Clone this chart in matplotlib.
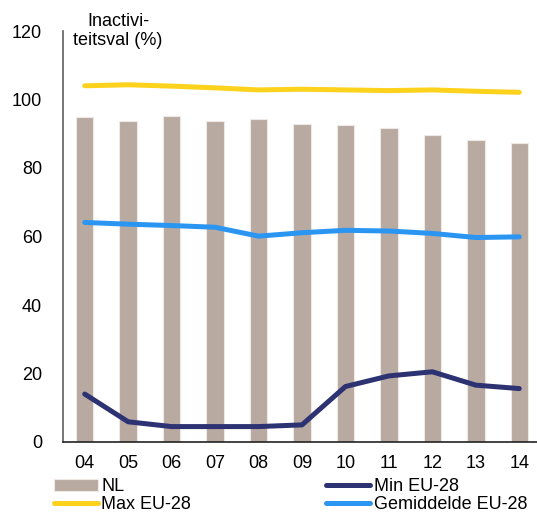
import numpy as np
import matplotlib
matplotlib.use("Agg")
import matplotlib.pyplot as plt

years = ["04", "05", "06", "07", "08", "09", "10", "11", "12", "13", "14"]
nl = [94.8, 93.7, 95.2, 93.8, 94.2, 92.8, 92.5, 91.7, 89.7, 88.1, 87.3]
max_eu = [104.0, 104.3, 103.9, 103.4, 102.8, 103.0, 102.8, 102.6, 102.8, 102.4, 102.1]
min_eu = [14.0, 5.9, 4.5, 4.5, 4.5, 5.0, 16.2, 19.3, 20.5, 16.6, 15.6]
gem_eu = [64.1, 63.6, 63.2, 62.7, 60.1, 61.1, 61.8, 61.6, 60.9, 59.7, 59.9]

plt.rcParams['font.family'] = ['Liberation Sans', 'DejaVu Sans']

fig = plt.figure(figsize=(5.37, 5.13), dpi=100)
ax = fig.add_axes([63/537, 1 - 442/513, 478/537, (442 - 31)/513])

x = np.arange(len(years))
ax.bar(x, nl, width=0.4, color="#b8a9a1", edgecolor="#efe9e6", linewidth=0.8, label="NL")
ax.plot(x, max_eu, color="#fcd21c", lw=3.6, solid_capstyle="round", label="Max EU-28")
ax.plot(x, min_eu, color="#2c3272", lw=3.6, solid_capstyle="round", label="Min EU-28")
ax.plot(x, gem_eu, color="#2b95f2", lw=3.6, solid_capstyle="round", label="Gemiddelde EU-28")

ax.set_xlim(-0.5, 10.5)
ax.set_ylim(0, 120)
ax.set_yticks(range(0, 121, 20))
ax.set_xticks(x)
ax.set_xticklabels(years)
ax.tick_params(axis="both", length=0, labelsize=13)
ax.tick_params(axis="y", pad=15)
ax.tick_params(axis="x", pad=9)
for s in ["top", "right"]:
    ax.spines[s].set_visible(False)
ax.spines["left"].set_color("#606060")
ax.spines["left"].set_linewidth(1.2)
ax.spines["bottom"].set_color("#222222")
ax.spines["bottom"].set_linewidth(1.2)

fig.text(118/537, 1 - 31/513, "Inactivi-\nteitsval (%)", ha="center", va="center",
         fontsize=13, linespacing=1.15)

h, l = ax.get_legend_handles_labels()
order = [3, 0, 1, 2]  # NL, Max, Min, Gem
fig.legend([h[i] for i in order], [l[i] for i in order], ncol=2,
           loc="lower left", bbox_to_anchor=(41/537, -13/513), frameon=False,
           fontsize=13, handlelength=2.45, handletextpad=0.2, labelspacing=0.05,
           columnspacing=7.45, borderpad=0.2)

fig.savefig("out.png", dpi=100)
